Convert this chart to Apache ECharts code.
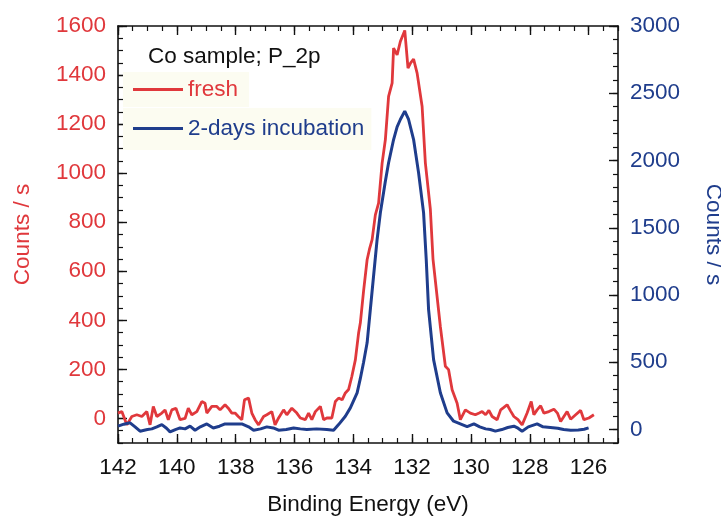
<!DOCTYPE html>
<html>
<head>
<meta charset="utf-8">
<script src="https://cdn.jsdelivr.net/npm/echarts@6/dist/echarts.min.js"></script>
<style>html,body{margin:0;padding:0;background:#fff;}#c{width:721px;height:518px;}</style>
</head>
<body>
<div id="c"></div>
<script>
// ---- data ----
const freshEnergy = [142.00,141.87,141.70,141.53,141.36,141.19,141.02,140.91,140.80,140.68,140.51,140.40,140.29,140.17,140.03,139.89,139.72,139.61,139.49,139.32,139.15,139.04,138.98,138.81,138.64,138.53,138.36,138.25,138.13,138.02,137.91,137.79,137.70,137.56,137.45,137.34,137.22,137.05,136.94,136.77,136.66,136.54,136.37,136.26,136.09,135.92,135.80,135.63,135.52,135.41,135.29,135.12,135.01,134.90,134.73,134.61,134.50,134.38,134.27,134.16,134.05,133.93,133.82,133.76,133.65,133.53,133.45,133.36,133.25,133.14,133.02,132.91,132.80,132.68,132.63,132.51,132.40,132.25,132.14,132.05,131.95,131.83,131.66,131.55,131.38,131.29,131.04,130.87,130.76,130.64,130.47,130.36,130.19,130.02,129.85,129.72,129.62,129.50,129.39,129.28,129.11,128.99,128.88,128.77,128.65,128.54,128.40,128.26,128.09,127.95,127.86,127.75,127.63,127.52,127.35,127.18,127.06,126.95,126.84,126.73,126.61,126.44,126.27,126.16,125.99,125.82];
const freshCounts = [22,28,-26,8,15,8,28,-26,49,8,22,35,-5,35,42,-5,0,42,15,28,69,62,22,49,49,35,56,42,22,22,8,-5,76,83,22,-5,-26,8,15,28,-26,2,35,15,42,22,2,-5,22,-5,28,49,-5,2,2,69,83,76,104,118,171,239,348,390,520,647,690,729,830,878,1041,1136,1313,1367,1510,1482,1537,1582,1428,1450,1465,1408,1272,1042,853,650,375,213,199,117,62,-5,35,22,15,22,28,15,33,8,-5,35,45,56,30,8,-5,-26,22,69,15,35,52,22,28,38,22,-12,8,28,-3,15,33,-5,2,15];

const incEnergy = [142.00,141.80,141.59,141.42,141.25,141.00,140.85,140.68,140.51,140.35,140.23,140.05,139.89,139.72,139.55,139.38,139.20,138.98,138.76,138.55,138.36,138.08,137.79,137.56,137.39,137.15,136.94,136.72,136.54,136.28,136.03,135.80,135.58,135.25,134.90,134.67,134.50,134.27,134.10,133.87,133.76,133.65,133.53,133.36,133.19,133.08,132.91,132.80,132.63,132.51,132.40,132.25,132.12,131.95,131.78,131.61,131.52,131.44,131.27,131.04,130.81,130.59,130.30,130.13,129.90,129.70,129.50,129.34,129.17,128.95,128.75,128.54,128.40,128.26,128.05,127.75,127.55,127.30,127.05,126.85,126.61,126.35,126.15,126.00];
const incCounts = [25,40,50,20,-12,0,5,20,37,10,-17,0,12,5,25,-5,20,42,12,25,42,42,42,20,-5,5,20,12,-5,0,12,5,0,5,0,-5,37,99,161,273,380,500,645,1030,1413,1611,1846,1983,2156,2250,2305,2367,2305,2156,1908,1611,1264,892,520,273,124,62,37,22,42,20,5,0,-12,0,15,25,10,-12,20,42,20,15,10,0,-5,-3,2,12];

const xTickLabels = [126,128,130,132,134,136,138,140,142];
const leftTickLabels = [0,200,400,600,800,1000,1200,1400,1600];
const rightTickLabels = [0,500,1000,1500,2000,2500,3000];

const seriesNames = ['fresh', '2-days incubation'];
const titleText = 'Co sample; P_2p';
const xName = 'Binding Energy (eV)';
const yName = 'Counts / s';

// ---- styles ----
const RED = '#e0383c';
const BLUE = '#1f3d8c';
const FONT = 'Liberation Sans, Arial, Helvetica, sans-serif';
const FS = 22.5;

const pair = (xs, ys) => xs.map((x, i) => [x, ys[i]]);
const plain = v => String(v);

function xAx(pos, major) {
  return {
    type: 'value', position: pos, min: 125, max: 142, inverse: true,
    interval: major ? undefined : 0.5,
    axisLine: {show: major, onZero: false, lineStyle: {color: '#111', width: 1.6}},
    axisTick: major ? {inside: true, length: 9, lineStyle: {color: '#111', width: 1.4}, customValues: xTickLabels}
                    : {inside: true, length: 5, lineStyle: {color: '#111', width: 1.2}},
    axisLabel: (major && pos === 'bottom') ? {show: true, customValues: xTickLabels, formatter: plain, color: '#111', fontSize: FS, fontFamily: FONT, margin: 13} : {show: false},
    splitLine: {show: false},
    name: (major && pos === 'bottom') ? xName : '',
    nameLocation: 'middle', nameGap: 50,
    nameTextStyle: {color: '#111', fontSize: FS, fontFamily: FONT}
  };
}
function yAx(pos, major, max, minorInt, labels, color, nameRotate, nameGap) {
  return {
    type: 'value', position: pos, min: -100, max: max,
    interval: major ? undefined : minorInt,
    axisLine: {show: major, onZero: false, lineStyle: {color: '#111', width: 1.6}},
    axisTick: major ? {inside: true, length: 9, lineStyle: {color: '#111', width: 1.4}, customValues: labels}
                    : {inside: true, length: 5, lineStyle: {color: '#111', width: 1.2}},
    axisLabel: major ? {show: true, customValues: labels, formatter: plain, color: color, fontSize: FS, fontFamily: FONT, margin: 12} : {show: false},
    splitLine: {show: false},
    name: major ? yName : '',
    nameLocation: 'middle', nameGap: nameGap, nameRotate: nameRotate,
    nameTextStyle: {color: color, fontSize: FS, fontFamily: FONT}
  };
}

const chart = echarts.init(document.getElementById('c'), null, {renderer: 'canvas'});
chart.setOption({
  animation: false,
  backgroundColor: '#fff',
  grid: {left: 118, right: 103, top: 26, bottom: 75, containLabel: false, outerBoundsMode: 'none'},
  title: {text: titleText, left: 148, top: 45, padding: 0,
          textStyle: {color: '#111', fontSize: FS, fontWeight: 'normal', fontFamily: FONT}},
  legend: [
    {data: [{name: seriesNames[0], textStyle: {color: RED}}], orient: 'vertical', left: 123, top: 72,
     padding: [6, 11, 6, 10], backgroundColor: '#fcfcf1', itemWidth: 50, itemHeight: 3, icon: 'rect',
     textStyle: {fontSize: FS, fontFamily: FONT}},
    {data: [{name: seriesNames[1], textStyle: {color: BLUE}}], orient: 'vertical', left: 123, top: 108,
     padding: [9, 7, 10, 10], backgroundColor: '#fcfcf1', itemWidth: 50, itemHeight: 3, icon: 'rect',
     textStyle: {fontSize: FS, fontFamily: FONT}}
  ],
  xAxis: [xAx('bottom', true), xAx('bottom', false), xAx('top', true), xAx('top', false)],
  yAxis: [
    yAx('left', true, 1600, 50, leftTickLabels, RED, 90, 84),
    yAx('left', false, 1600, 50, leftTickLabels, RED, 90, 84),
    yAx('right', true, 3000, 100, rightTickLabels, BLUE, -90, 84),
    yAx('right', false, 3000, 100, rightTickLabels, BLUE, -90, 84)
  ],
  series: [
    {name: seriesNames[0], type: 'line', xAxisIndex: 0, yAxisIndex: 0, data: pair(freshEnergy, freshCounts),
     showSymbol: false, symbol: 'none', lineStyle: {color: RED, width: 2.8}, itemStyle: {color: RED}, z: 3},
    {name: seriesNames[1], type: 'line', xAxisIndex: 0, yAxisIndex: 2, data: pair(incEnergy, incCounts),
     showSymbol: false, symbol: 'none', lineStyle: {color: BLUE, width: 3}, itemStyle: {color: BLUE}, z: 4}
  ]
});
</script>
</body>
</html>
